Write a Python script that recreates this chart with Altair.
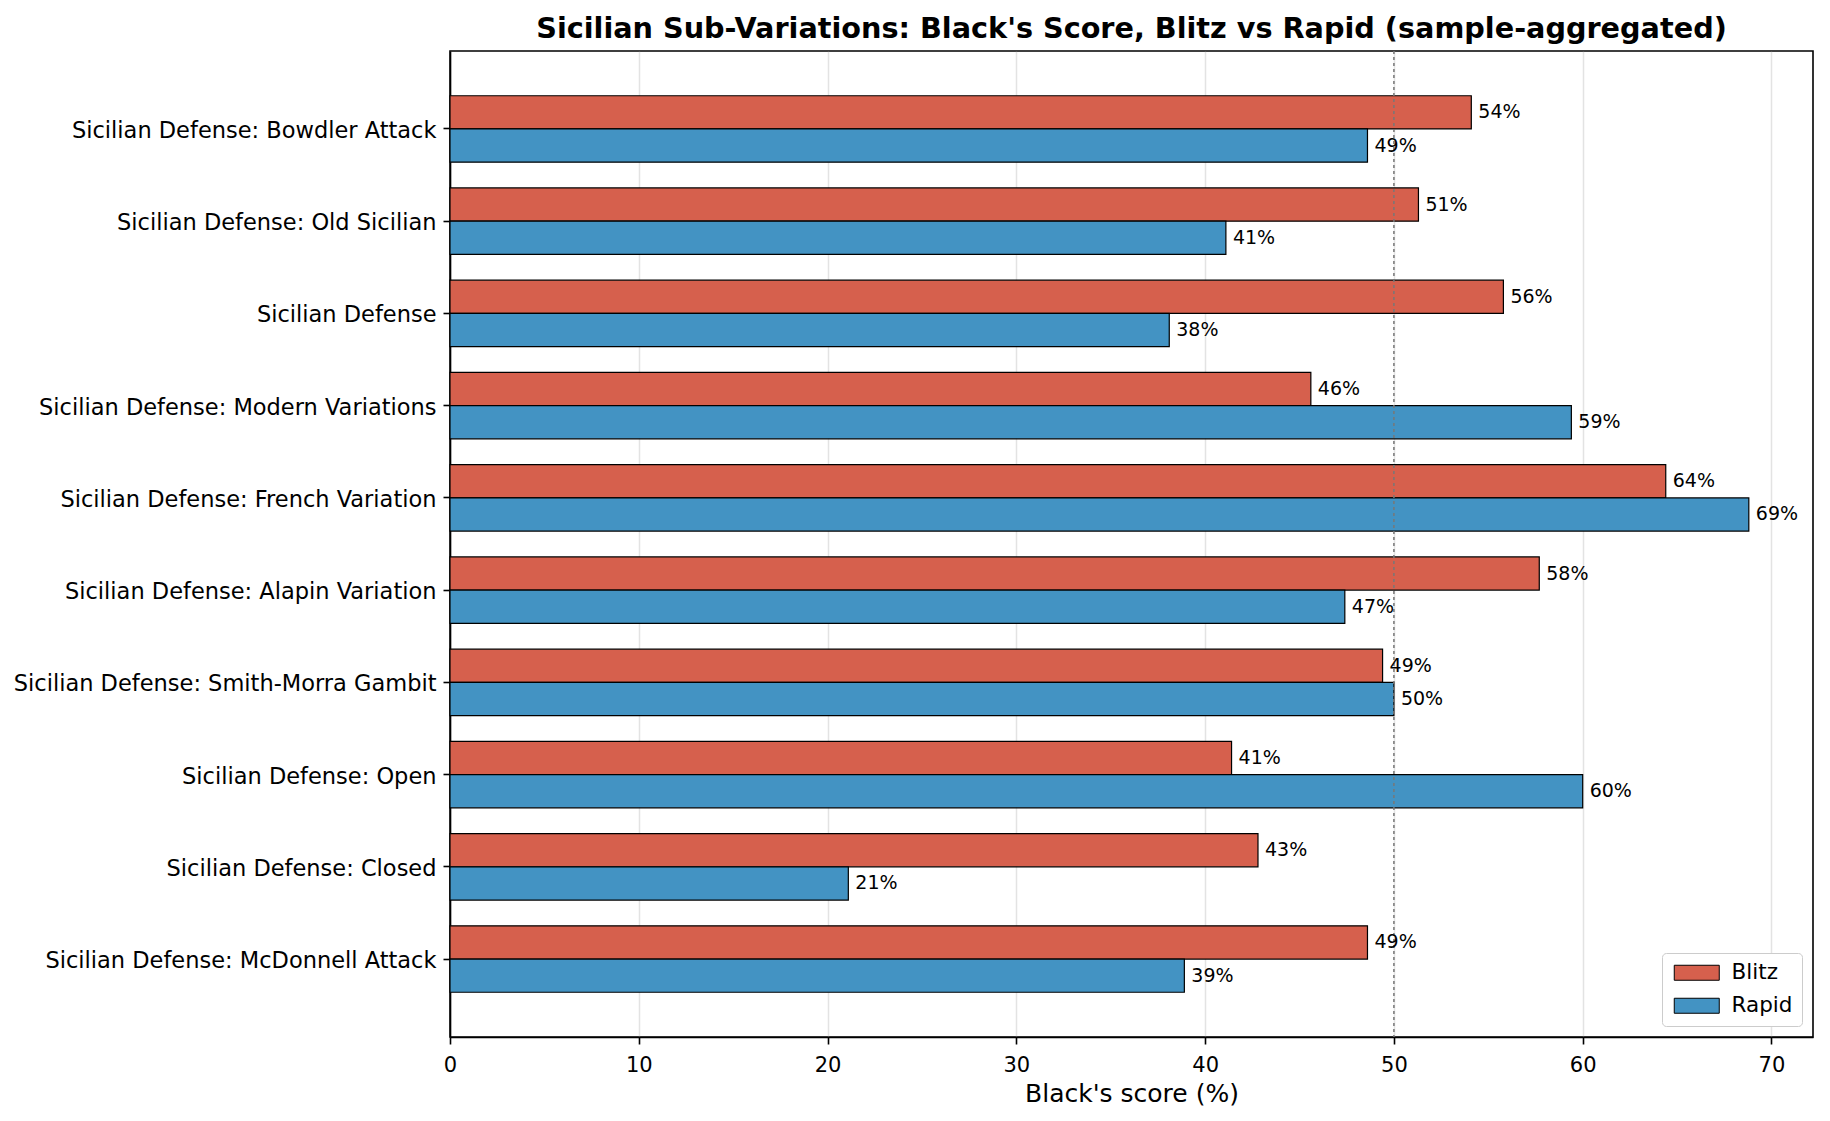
"""
Sicilian sub-variations: Black's score, blitz vs rapid (Altair)
"""
import pandas as pd
import altair as alt

# Categories, top to bottom
variations = [
    'Sicilian Defense: Bowdler Attack',
    'Sicilian Defense: Old Sicilian',
    'Sicilian Defense',
    'Sicilian Defense: Modern Variations',
    'Sicilian Defense: French Variation',
    'Sicilian Defense: Alapin Variation',
    'Sicilian Defense: Smith-Morra Gambit',
    'Sicilian Defense: Open',
    'Sicilian Defense: Closed',
    'Sicilian Defense: McDonnell Attack',
]
blitz = [54.1, 51.3, 55.8, 45.6, 64.4, 57.7, 49.4, 41.4, 42.8, 48.6]
rapid = [48.6, 41.1, 38.1, 59.4, 68.8, 47.4, 50.0, 60.0, 21.1, 38.9]
formats = ['Blitz', 'Rapid']
colors = ['#d6604d', '#4393c3']
x_ticks = [0, 10, 20, 30, 40, 50, 60, 70]

rows = []
for name, b, r in zip(variations, blitz, rapid):
    rows.append({'variation': name, 'format': 'Blitz', 'score': b})
    rows.append({'variation': name, 'format': 'Rapid', 'score': r})
df = pd.DataFrame(rows)
df['label'] = df['score'].map(lambda v: f"{round(v)}%")

y_enc = alt.Y('variation:N', sort=variations,
              scale=alt.Scale(paddingInner=0.28, paddingOuter=0.485),
              axis=alt.Axis(title=None, labelFontSize=22.5, labelLimit=0,
                            tickSize=7, labelPadding=7, labelOffset=2, grid=False))
y_off = alt.YOffset('format:N', sort=formats,
                    scale=alt.Scale(paddingInner=0, paddingOuter=0))
x_enc = alt.X('score:Q',
              scale=alt.Scale(domain=[0, 72.2], nice=False, zero=True),
              axis=alt.Axis(title="Black's score (%)", values=x_ticks,
                            labelFontSize=21, titleFontSize=25, labelFlush=False,
                            tickSize=7, labelPadding=10, titlePadding=6,
                            titleFontWeight='normal', grid=True))

base = alt.Chart(df)

bars = base.mark_bar(stroke='black', strokeWidth=1.2).encode(
    y=y_enc,
    yOffset=y_off,
    x=x_enc,
    color=alt.Color('format:N',
                    scale=alt.Scale(domain=formats, range=colors),
                    legend=alt.Legend(title=None, orient='bottom-right', offset=11,
                                      symbolType='M-3,-1H3V1H-3Z', symbolSize=225,
                                      symbolStrokeColor='black', symbolStrokeWidth=1,
                                      symbolOffset=15, labelOffset=24,
                                      labelFontSize=21.5, rowPadding=10, padding=9,
                                      strokeColor='#cccccc', fillColor='white',
                                      cornerRadius=4, labelColor='black')),
)

ref = alt.Chart(pd.DataFrame({'x': [50]})).mark_rule(
    strokeDash=[3, 3], color='#777777', strokeWidth=1.5
).encode(x='x:Q')

labels = base.mark_text(align='left', baseline='middle', dx=7, fontSize=19,
                        color='black').encode(
    y=alt.Y('variation:N', sort=variations),
    yOffset=alt.YOffset('format:N', sort=formats),
    x='score:Q',
    text='label:N',
)

chart = alt.layer(bars, ref, labels).properties(
    width=1363,
    height=986,
    autosize=alt.AutoSizeParams(type='none'),
    padding={'left': 442, 'top': 43, 'right': 9, 'bottom': 70},
    title=alt.TitleParams(
        "Sicilian Sub-Variations: Black's Score, Blitz vs Rapid (sample-aggregated)",
        fontSize=28.7, fontWeight='bold', anchor='middle', baseline='alphabetic',
        offset=13, dy=29, color='black'),
).configure(
    font='DejaVu Sans'
).configure_view(
    stroke='black', strokeWidth=1.6
).configure_axis(
    domainColor='black', domainWidth=1.6, tickColor='black', tickWidth=1.6,
    labelColor='black', titleColor='black',
    gridColor='#b0b0b0', gridOpacity=0.35, gridWidth=1.5, zindex=1
)

chart.save('out.html', embed_options={'renderer': 'svg', 'actions': False})
print('saved out.html')
